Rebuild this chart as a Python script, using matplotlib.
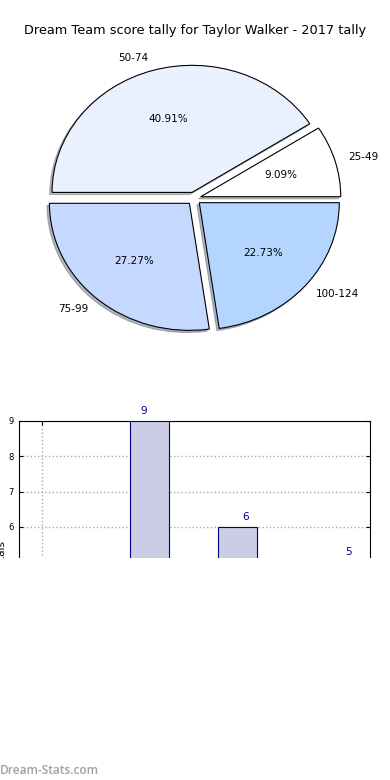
import matplotlib
matplotlib.use("Agg")
import matplotlib.pyplot as plt
from matplotlib.patches import Rectangle

title = "Dream Team score tally for Taylor Walker - 2017 tally"
categories = ["25-49", "50-74", "75-99", "100-124"]
counts = [2, 9, 6, 5]
pie_colors = ["#ffffff", "#e9f1ff", "#c5d8ff", "#b3d5ff"]
ylabel = "Number of totals"
watermark = "Dream-Stats.com"

fig = plt.figure(figsize=(3.9, 7.8), dpi=100)

# Pie
axp = fig.add_axes([0.0667, 0.55, 0.8615, 0.391])
wedges, texts, autotexts = axp.pie(
    counts, labels=categories, colors=pie_colors, explode=[0.05] * len(counts),
    autopct="%1.2f%%", shadow={"ox": -0.012, "oy": -0.012, "shade": 0.5}, startangle=0,
    wedgeprops=dict(edgecolor="black", linewidth=0.8),
    textprops=dict(fontsize=7.5))
axp.set_aspect("auto")
axp.set_xlim(-1.2, 1.2)
axp.set_ylim(-1.2, 1.2)
fig.text(0.5, 0.961, title, ha="center", va="center", fontsize=9.3)

# Bar
axb = fig.add_axes([0.0487, 0.0526, 0.9, 0.4077])
xs = list(range(len(counts)))
axb.bar(xs, counts, width=0.45, align="edge", color="#ccccE4",
        edgecolor="#00008b", linewidth=0.8, zorder=3)
for i, v in zip(xs, counts):
    axb.text(i * 1.16, v + 0.15, str(v), ha="center", va="bottom",
             color="#00008b", fontsize=7.5)
axb.set_xlim(-0.26, 3.73)
axb.set_ylim(0, 9)
axb.set_yticks(range(0, 10))
axb.set_xticks(xs[:1])
axb.set_xticklabels([])
axb.tick_params(axis="both", direction="in", labelsize=6, right=True, top=True, length=3)
axb.grid(True, linestyle=":", color="#aaaaaa", linewidth=1, zorder=0)
axb.set_ylabel(ylabel, fontsize=7.5, labelpad=2)
axb.yaxis.set_label_coords(-0.034, 0.485)

# Cropped-out lower part
fig.add_artist(Rectangle((0, 0), 1, 0.2846, transform=fig.transFigure,
                         facecolor="white", edgecolor="none", zorder=10))
fig.text(0.0, 0.004, watermark, ha="left", va="bottom", fontsize=8.6,
         color="#a0a0a0", fontweight="semibold", family="Open Sans", zorder=11)

fig.savefig("out.png", dpi=100)
